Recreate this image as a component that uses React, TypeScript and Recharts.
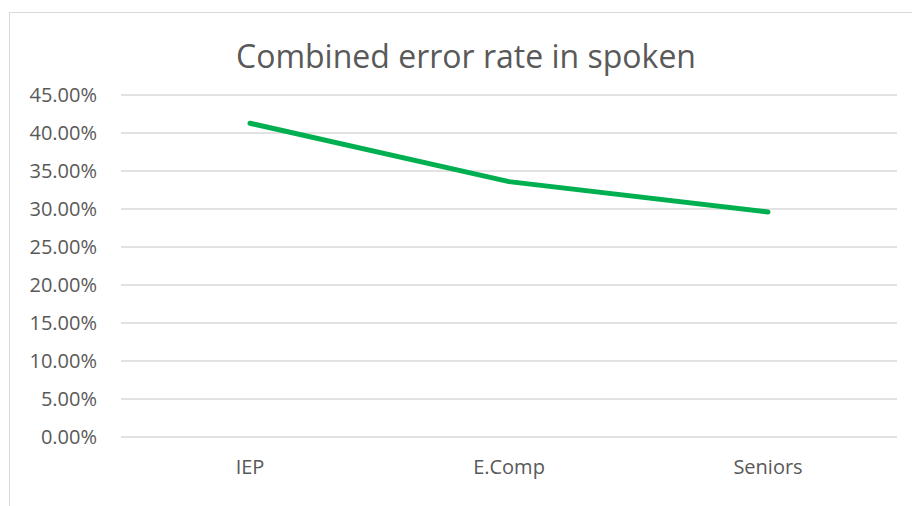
import React from 'react';
import { LineChart, Line, XAxis, YAxis, CartesianGrid } from 'recharts';

const categories = ['IEP', 'E.Comp', 'Seniors'];
const errorRates = [0.4128, 0.336, 0.296];
const yTicks = [0, 0.05, 0.1, 0.15, 0.2, 0.25, 0.3, 0.35, 0.4, 0.45];
const title = 'Combined error rate in spoken';

const data = categories.map((c, i) => ({ name: c, value: errorRates[i] }));
const FONT = '"Open Sans", "Noto Sans", sans-serif';

export default function App() {
  return (
    <div style={{ position: 'absolute', left: 0, top: 0, width: 912, height: 506, overflow: 'hidden', background: '#fff' }}>
      <div style={{ position: 'absolute', left: 9, top: 12, width: 1000, height: 1000, border: '1px solid #d9d9d9', boxSizing: 'border-box' }} />
      <div style={{ position: 'absolute', left: 0, top: 0 }}>
        <LineChart width={912} height={506} data={data} margin={{ top: 95, right: 15, bottom: 39, left: 0 }}>
          <CartesianGrid vertical={false} stroke="#d9d9d9" strokeWidth={1.5} />
          <XAxis
            dataKey="name"
            axisLine={false}
            tickLine={false}
            tickSize={0}
            tickMargin={23}
            height={30}
            padding={{ left: 129, right: 129 }}
            tick={{ fill: '#595959', fontSize: 20, fontFamily: FONT }}
            interval={0}
          />
          <YAxis
            domain={[0, 0.45]}
            ticks={yTicks}
            width={121}
            axisLine={false}
            tickLine={false}
            tickSize={0}
            tickMargin={24}
            interval={0}
            tickFormatter={(v: number) => (v * 100).toFixed(2) + '%'}
            tick={{ fill: '#595959', fontSize: 20, fontFamily: FONT }}
          />
          <Line
            type="linear"
            dataKey="value"
            stroke="#00B050"
            strokeWidth={5}
            strokeLinecap="round"
            strokeLinejoin="round"
            dot={false}
            activeDot={false}
            isAnimationActive={false}
          />
        </LineChart>
      </div>
      <svg width={912} height={506} style={{ position: 'absolute', left: 0, top: 0, pointerEvents: 'none' }}>
        <text x={466} y={68} textAnchor="middle" fill="#595959" fontSize={32} fontFamily={FONT}>
          {title}
        </text>
      </svg>
    </div>
  );
}
